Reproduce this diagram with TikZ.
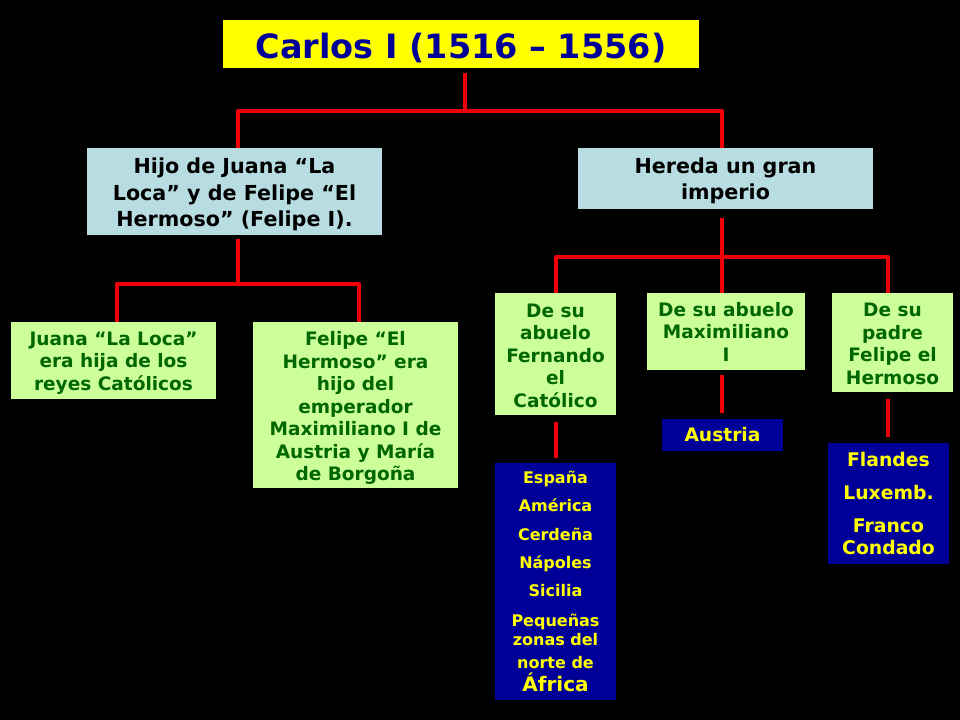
\documentclass[tikz,border=0pt]{standalone}
\usepackage{fontspec}
\setmainfont{DejaVu Sans}
\definecolor{amarillo}{HTML}{FFFF00}
\definecolor{navy}{HTML}{000099}
\definecolor{azul}{HTML}{B7DDE3}
\definecolor{verde}{HTML}{CCFF99}
\definecolor{verdeosc}{HTML}{006600}
\definecolor{rojo}{HTML}{F00008}
\newcommand{\tope}[1]{\rule{0pt}{#1}}
\tikzset{
	caja/.style={inner sep=0pt,align=center,font=\bfseries},
	titulo/.style={caja,fill=amarillo,text=navy,minimum width=357pt,minimum height=36pt,font=\bfseries\fontsize{25.1}{30}\selectfont},
	cajaazul/.style={caja,fill=azul,text=black,minimum width=221.25pt,font=\bfseries\fontsize{15.5}{19.9}\selectfont},
	cajaverde/.style={caja,fill=verde,text=verdeosc,font=\bfseries\fontsize{13.9}{16.9}\selectfont},
	cajanavy/.style={caja,fill=navy,text=amarillo,minimum width=90.75pt},
	rama/.style={draw=rojo,line width=3pt,line join=round},
}
\begin{document}
\begin{tikzpicture}[x=0.75pt,y=-0.75pt]
	\fill[black] (0,0) rectangle (960,720);
	\path
	(461,44)     	node[titulo] 							(carlos) 	{\tope{25.1pt}Carlos I (1516 – 1556)}
	(234.5,191.5) 	node[cajaazul,minimum height=65.25pt] 	(hijo) 		{\tope{16.3pt}Hijo de Juana “La\\Loca” y de Felipe “El\\Hermoso” (Felipe I).}
	(725.5,178.5) 	node[cajaazul,minimum height=45.75pt] 	(hereda) 	{\tope{15.5pt}Hereda un gran\\imperio}
	(113.5,360.5) 	node[cajaverde,minimum width=153.75pt,minimum height=57.75pt] 	(juana) 	{\tope{13.6pt}Juana “La Loca”\\era hija de los\\reyes Católicos}
	(355.5,405) 	node[cajaverde,minimum width=153.75pt,minimum height=124.5pt] 	(felipe) 	{\tope{15.1pt}Felipe “El\\Hermoso” era\\hijo del\\emperador\\Maximiliano I de\\Austria y María\\de Borgoña}
	(555.5,354) 	node[cajaverde,minimum width=90.75pt,minimum height=91.5pt] 	(fernando) 	{\tope{12.8pt}De su\\abuelo\\Fernando\\el\\Católico}
	(726,331.5) 	node[cajaverde,minimum width=118.5pt,minimum height=57.75pt] 	(maxi) 		{De su abuelo\\Maximiliano\\I}
	(892.5,342.5) 	node[cajaverde,minimum width=90.75pt,minimum height=74.25pt] 	(padre) 	{\tope{12pt}De su\\padre\\Felipe el\\Hermoso}
	(555.5,581.5) 	node[cajanavy,minimum height=177.75pt,font=\bfseries\fontsize{12}{14}\selectfont] 	(espana) 	{España\\[7.4pt]América\\[7.2pt]Cerdeña\\[7.4pt]Nápoles\\[7.2pt]Sicilia\\[8.5pt]Pequeñas\\zonas del\\[3pt]norte de\\[2.8pt]{\fontsize{15}{15}\selectfont África}}
	(722.5,435) 	node[cajanavy,minimum height=24pt,font=\bfseries\fontsize{14}{16}\selectfont] 	(austria) 	{Austria}
	(888.5,503.5) 	node[cajanavy,minimum height=90.75pt,font=\bfseries\fontsize{14.1}{16.5}\selectfont] 	(flandes) 	{Flandes\\[8pt]Luxemb.\\[8pt]Franco\\Condado};
	
	\coordinate (carlosb) at (465,73);
	\coordinate (hijob) at (238,239);
	\coordinate (heredab) at (722,218);
	\coordinate (hijot) at (238,148);
	\coordinate (heredat) at (722,148);
	\coordinate (juanat) at (117,322);
	\coordinate (felipet) at (359,322);
	\coordinate (fernandot) at (556,293);
	\coordinate (maxit) at (722,293);
	\coordinate (padret) at (888,293);
	\coordinate (fernandob) at (556,422);
	\coordinate (espanat) at (556,458);
	\coordinate (maxib) at (722,375);
	\coordinate (austriat) at (722,413);
	\coordinate (padreb) at (888,399);
	\coordinate (flandest) at (888,437);
	\coordinate (nudoa) at (465,111);
	\coordinate (nudob) at (238,284);
	\coordinate (nudoc) at (722,257);
	
	\draw[rama] (carlosb)--(nudoa);
	\draw[rama] (hijot)|-(nudoa) -| (heredat);
	\draw[rama] (hijob)--(nudob);
	\draw[rama] (juanat)|-(nudob) -| (felipet);
	\draw[rama] (heredab)--(nudoc);
	\draw[rama] (fernandot)|-(nudoc) -| (padret);
	\draw[rama] (nudoc)--(maxit);
	\draw[rama] (fernandob)--(espanat);
	\draw[rama] (maxib)--(austriat);
	\draw[rama] (padreb)--(flandest);
\end{tikzpicture}
\end{document}
